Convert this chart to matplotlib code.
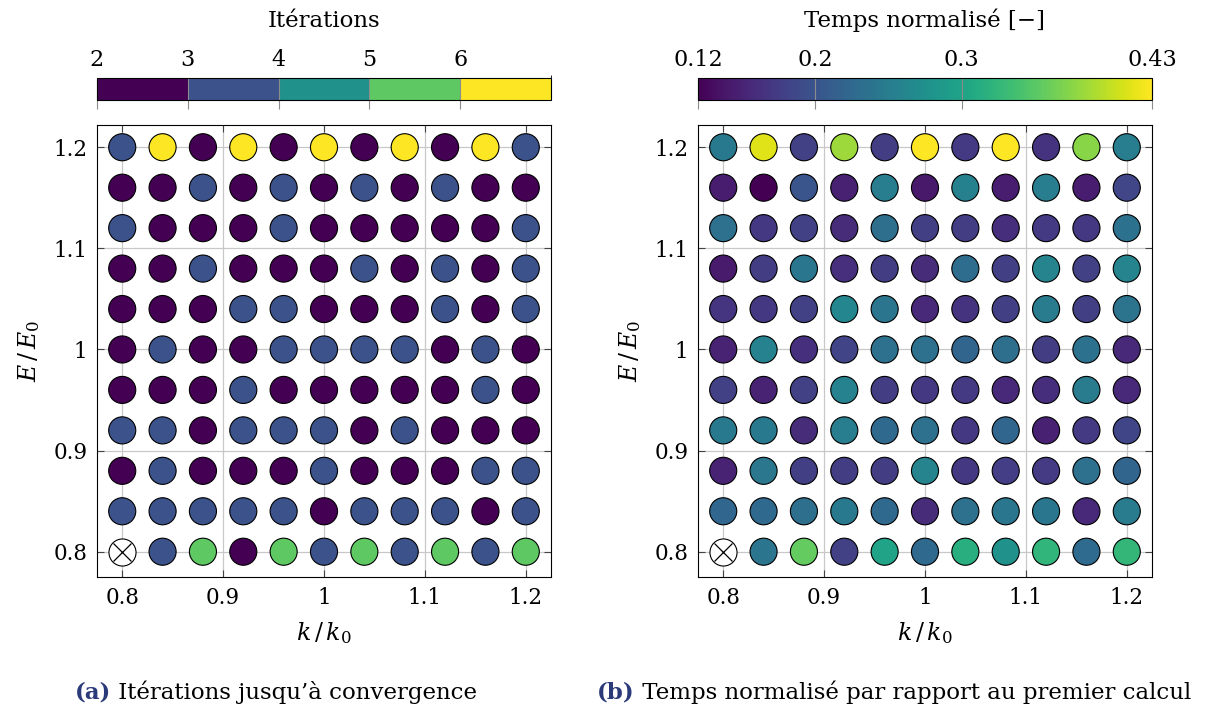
import numpy as np
import matplotlib
matplotlib.use("Agg")
import matplotlib.pyplot as plt
from matplotlib.colors import ListedColormap, BoundaryNorm, Normalize
from matplotlib.colorbar import ColorbarBase
from matplotlib.text import Annotation

plt.rcParams['font.family'] = ['DejaVu Serif']
plt.rcParams['mathtext.fontset'] = 'dejavuserif'

k_vals = [0.8, 0.84, 0.88, 0.92, 0.96, 1.0, 1.04, 1.08, 1.12, 1.16, 1.2]
E_vals = [1.2, 1.16, 1.12, 1.08, 1.04, 1.0, 0.96, 0.92, 0.88, 0.84, 0.8]  # rows top -> bottom

nan = np.nan
iterations = [
    [3, 6, 2, 6, 2, 6, 2, 6, 2, 6, 3],
    [2, 2, 3, 2, 3, 2, 3, 2, 3, 2, 2],
    [3, 2, 2, 2, 3, 2, 2, 2, 2, 2, 3],
    [2, 2, 3, 2, 2, 2, 3, 2, 3, 2, 3],
    [2, 2, 2, 3, 3, 2, 2, 2, 3, 2, 3],
    [2, 3, 2, 2, 3, 3, 3, 3, 2, 3, 2],
    [2, 2, 2, 3, 2, 2, 2, 2, 2, 3, 2],
    [3, 3, 2, 3, 3, 3, 2, 3, 2, 2, 2],
    [2, 3, 2, 2, 2, 3, 2, 2, 2, 3, 3],
    [3, 3, 3, 3, 3, 2, 3, 3, 3, 2, 3],
    [nan, 3, 5, 2, 5, 3, 5, 3, 5, 3, 5],
]

temps = [
    [0.245, 0.415, 0.180, 0.385, 0.175, 0.430, 0.172, 0.430, 0.165, 0.375, 0.250],
    [0.145, 0.120, 0.200, 0.148, 0.250, 0.140, 0.255, 0.145, 0.250, 0.145, 0.185],
    [0.235, 0.170, 0.180, 0.158, 0.232, 0.178, 0.175, 0.160, 0.173, 0.170, 0.236],
    [0.142, 0.175, 0.242, 0.162, 0.175, 0.158, 0.230, 0.177, 0.260, 0.180, 0.260],
    [0.168, 0.170, 0.180, 0.262, 0.240, 0.155, 0.165, 0.178, 0.248, 0.178, 0.238],
    [0.150, 0.258, 0.163, 0.182, 0.235, 0.235, 0.220, 0.232, 0.175, 0.237, 0.155],
    [0.180, 0.150, 0.180, 0.258, 0.175, 0.170, 0.172, 0.155, 0.160, 0.248, 0.155],
    [0.245, 0.245, 0.158, 0.250, 0.225, 0.235, 0.170, 0.222, 0.148, 0.172, 0.183],
    [0.150, 0.243, 0.178, 0.175, 0.175, 0.260, 0.170, 0.176, 0.174, 0.235, 0.220],
    [0.222, 0.225, 0.232, 0.245, 0.225, 0.158, 0.235, 0.242, 0.242, 0.155, 0.248],
    [nan, 0.240, 0.355, 0.180, 0.300, 0.225, 0.315, 0.275, 0.323, 0.227, 0.325],
]

iter_ticks = [2, 3, 4, 5, 6]
iter_bounds = [2, 3, 4, 5, 6, 7]
temps_ticks = [0.12, 0.2, 0.3, 0.43]
temps_range = (0.12, 0.43)

xticks = [0.8, 0.9, 1.0, 1.1, 1.2]
xtick_labels = ["0.8", "0.9", "1", "1.1", "1.2"]

W, H = 1209, 710
fig = plt.figure(figsize=(W / 100, H / 100), dpi=100)

def fr(x0, y0, x1, y1):
    return [x0 / W, 1 - y1 / H, (x1 - x0) / W, (y1 - y0) / H]

viridis = plt.get_cmap('viridis')
iter_cmap = ListedColormap([viridis(v) for v in np.linspace(0, 1, 5)])
iter_norm = BoundaryNorm(iter_bounds, iter_cmap.N)
temps_norm = Normalize(*temps_range)

K, E = np.meshgrid(k_vals, E_vals)

def panel(ax_rect, cb_rect, data, cmap, norm, cb_ticks, cb_title):
    ax = fig.add_axes(ax_rect)
    ax.set_xlim(0.775, 1.225)
    ax.set_ylim(0.775, 1.222)
    ax.grid(True, color='#c8c8c8', linewidth=0.9)
    ax.set_axisbelow(True)
    arr = np.array(data, dtype=float)
    mask = ~np.isnan(arr)
    ax.scatter(K[mask], E[mask], c=arr[mask], cmap=cmap, norm=norm, s=380,
               edgecolors='black', linewidths=0.8, zorder=3)
    ax.scatter(K[~mask], E[~mask], c='white', s=380, edgecolors='black',
               linewidths=0.8, zorder=3)
    ax.plot(K[~mask], E[~mask], linestyle='none', marker='x', markersize=13.5,
            markeredgewidth=0.9, color='black', zorder=4)
    ax.set_xticks(xticks)
    ax.set_xticklabels(xtick_labels)
    ax.set_yticks(xticks)
    ax.set_yticklabels(xtick_labels)
    ax.tick_params(direction='in', top=True, right=True, length=5, width=0.8,
                   labelsize=15.5, pad=7, color='#444444')
    for s in ax.spines.values():
        s.set_linewidth(0.8)
    ax.set_xlabel(r'$k\,/\,k_0$', fontsize=17, labelpad=8)
    ax.set_ylabel(r'$E\,/\,E_0$', fontsize=17, labelpad=8)

    cax = fig.add_axes(cb_rect)
    cb = ColorbarBase(cax, cmap=cmap, norm=norm, orientation='horizontal',
                      ticks=cb_ticks, drawedges=False)
    cax.xaxis.set_ticks_position('top')
    cax.xaxis.set_label_position('top')
    cax.tick_params(direction='in', length=22, width=0.8, color='#8c8c8c',
                    labelsize=16, pad=5)
    cax.set_xticklabels([('%g' % t) for t in cb_ticks])
    cb.outline.set_linewidth(0.8)
    cax.set_xlabel(cb_title, fontsize=16.5, labelpad=16)
    return ax

panel(fr(97, 125, 551, 577), fr(97, 78, 551, 100), iterations, iter_cmap,
      iter_norm, iter_ticks, 'Itérations')
panel(fr(698, 125, 1152, 577), fr(698, 78, 1152, 100), temps, 'viridis',
      temps_norm, temps_ticks, 'Temps normalisé [−]')

def caption(x, lab, text):
    t = fig.text(x / W, 1 - 692 / H, lab, fontsize=16.5, fontweight='bold',
                 color='#2b3a78', ha='left', va='center')
    fig.add_artist(Annotation(' ' + text, xy=(1, 0.5), xycoords=t,
                              va='center', ha='left', fontsize=16.5,
                              color='black'))

caption(75, '(a)', 'Itérations jusqu\u2019à convergence')
caption(597, '(b)', 'Temps normalisé par rapport au premier calcul')

fig.savefig('out.png', dpi=100)
